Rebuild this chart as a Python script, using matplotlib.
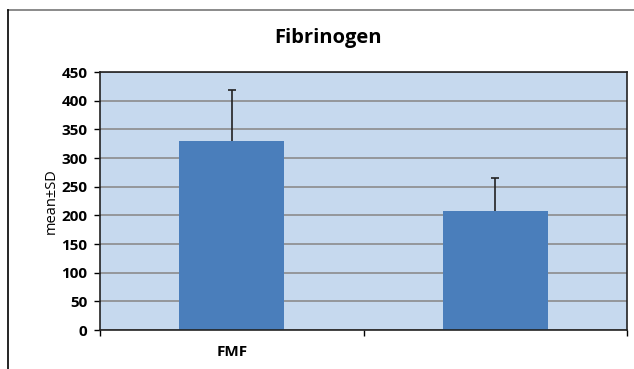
import matplotlib.pyplot as plt
from matplotlib.lines import Line2D
import numpy as np

# bar chart of fibrinogen, mean +/- SD
groups = ['FMF', '']
means = [330, 208]
sds = [88, 57]
yticks = [0, 50, 100, 150, 200, 250, 300, 350, 400, 450]

plt.rcParams['font.family'] = ['Open Sans', 'DejaVu Sans']

fig = plt.figure(figsize=(6.34, 3.69), dpi=100)
ax = fig.add_axes([100/634, 1-330/369, 527/634, 258/369])

x = np.arange(len(groups))
ax.set_axisbelow(True)
ax.yaxis.grid(True, color='#8c8c8c', linewidth=1.2)
ax.bar(x, means, width=0.4, color='#4a7ebb', zorder=2)
# only the upper half of the error bar is shown
_, caps, _ = ax.errorbar(x, means, yerr=[np.zeros(len(sds)), sds], fmt='none',
                         ecolor='#222222', elinewidth=1.2, capsize=3,
                         capthick=1.2, zorder=3)
caps[0].set_visible(False)

ax.set_facecolor('#c6d9ee')
ax.set_xlim(-0.5, len(groups) - 0.5)
ax.set_ylim(0, 450)
ax.set_yticks(yticks)
ax.set_yticklabels([str(v) for v in yticks], fontsize=11, fontweight='bold')
ax.tick_params(axis='y', direction='out', length=4, width=1, pad=5)

# category boundaries as ticks, names centred
ax.set_xticks(np.arange(len(groups) + 1) - 0.5)
ax.set_xticklabels([])
ax.tick_params(axis='x', which='major', direction='out', length=4, width=1)
ax.set_xticks(x, minor=True)
ax.set_xticklabels(groups, minor=True, fontsize=11, fontweight='bold')
ax.tick_params(axis='x', which='minor', length=0, pad=11)

for s in ax.spines.values():
    s.set_color('#222222')
    s.set_linewidth(1.2)

ax.set_ylabel('mean±SD', fontsize=10.5, labelpad=2)
fig.text(328/634, 1-38/369, 'Fibrinogen', ha='center', va='center',
         fontsize=14.5, fontweight='bold')

# outer frame (top and left only)
fig.add_artist(Line2D([8/634, 1], [1-10/369, 1-10/369], color='#777777', lw=1.2))
fig.add_artist(Line2D([8/634, 8/634], [0, 1-10/369], color='black', lw=1.2))

fig.savefig('out.png', dpi=100)
